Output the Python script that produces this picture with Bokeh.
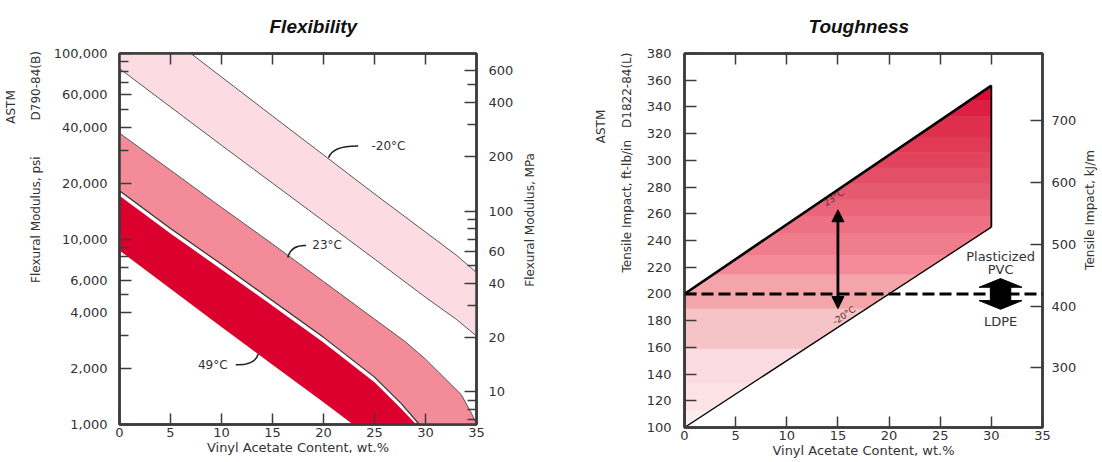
from math import pi
from bokeh.plotting import figure
from bokeh.models import (Range1d, LogScale, LinearAxis, LogAxis, FixedTicker,
                          NumeralTickFormatter, Label, Span, Arrow, NormalHead,
                          CustomLabelingPolicy)
from bokeh.layouts import row
from bokeh.embed import file_html
from bokeh.resources import INLINE

# ---------------- data: Flexibility (wt.% vinyl acetate vs flexural modulus, psi) ----------------
m20_upper_va = [0, 7, 15, 20, 25, 30, 33, 35]
m20_upper_psi = [195000, 100000, 46000, 28400, 17500, 10900, 8200, 6600]
m20_lower_va = [0, 5, 10, 15, 20, 25, 30, 33, 35]
m20_lower_psi = [83000, 51500, 32000, 20000, 12500, 7800, 4850, 3700, 3000]

t23_upper_va = [0, 5, 10, 15, 20, 25, 28, 30, 32, 33.5, 34.5, 35]
t23_upper_psi = [37200, 23500, 14800, 9400, 5900, 3700, 2800, 2250, 1750, 1450, 1150, 1000]
t23_lower_va = [0, 5, 10, 15, 20, 25, 27.6, 29.4]
t23_lower_psi = [18200, 11400, 7300, 4650, 2950, 1800, 1300, 1000]

t49_upper_va = [0, 5, 10, 15, 20, 25, 27.4, 29.1]
t49_upper_psi = [17100, 10700, 6850, 4370, 2770, 1690, 1250, 1000]
t49_lower_va = [0, 5, 10, 15, 20, 22.9]
t49_lower_psi = [8670, 5400, 3350, 2100, 1320, 1000]

flex_x_ticks = [0, 5, 10, 15, 20, 25, 30, 35]
psi_ticks = [1000, 2000, 4000, 6000, 10000, 20000, 40000, 60000, 100000]
psi_minor = [3000, 5000, 7000, 8000, 9000, 30000, 50000, 70000, 80000, 90000]
mpa_ticks = [10, 20, 40, 60, 100, 200, 400, 600]
mpa_minor = [7, 8, 9, 30, 50, 70, 80, 90, 300, 500]

# ---------------- data: Toughness (wt.% VA vs tensile impact, ft-lb/in) ----------------
tough_va = [0, 30]
tough_upper = [200, 356]
tough_lower = [100, 250]
stripe_edges = [100, 113, 133, 159, 189, 215, 229, 245, 258, 271, 283, 295, 306, 317, 333, 345, 357]
stripe_colors = ["#fdeeed", "#fde3e6", "#fcdce3", "#f6c4c6", "#f3a5a9", "#f48a98", "#f07d8c",
                 "#ee7083", "#ea6579", "#e65a6f", "#e44e66", "#e2445d", "#e03a55", "#de2f4d",
                 "#dc1f42", "#db0a36"]
pvc_ldpe_level = 200
arrow_va = 15
arrow_from, arrow_to = 189, 263
fat_arrow_va = 30.9
tough_y_ticks = list(range(100, 381, 20))
kj_ticks = [300, 400, 500, 600, 700]

FONT = "DejaVu Sans"
TFONT = "Liberation Sans"
AX = "#3c3c3c"
TXT = "#333333"
EM = "\u2003"


def style_axis(ax, major_in=11, minor_in=7, standoff=8, size="13px"):
    ax.axis_line_color = AX
    ax.axis_line_width = 2.5
    ax.major_tick_in = major_in
    ax.major_tick_out = 0
    ax.minor_tick_in = minor_in
    ax.minor_tick_out = 0
    ax.major_tick_line_color = AX
    ax.major_tick_line_width = 1.5
    ax.minor_tick_line_color = AX
    ax.minor_tick_line_width = 1.5
    ax.major_label_text_font = FONT
    ax.major_label_text_font_size = size
    ax.major_label_text_color = TXT
    ax.major_label_standoff = standoff
    ax.axis_label_text_font = FONT
    ax.axis_label_text_font_style = "normal"
    ax.axis_label_text_color = TXT
    ax.axis_label_text_font_size = "12px"


def top_ticks(p):
    ax = LinearAxis(ticker=FixedTicker(ticks=flex_x_ticks[1:-1]))
    style_axis(ax, standoff=0, size="1px")
    ax.major_label_policy = CustomLabelingPolicy(code="return new Set()")
    p.add_layout(ax, "above")


def side_title(p, text, at, standoff, log=False):
    """Vertical (bottom-to-top) title on the right-hand side, starting at value `at`."""
    cls = LogAxis if log else LinearAxis
    ax = cls(ticker=FixedTicker(ticks=[at], minor_ticks=[]))
    ax.axis_line_color = None
    ax.major_tick_line_color = None
    ax.minor_tick_line_color = None
    ax.major_label_overrides = {at: text}
    ax.major_label_orientation = pi / 2
    ax.major_label_standoff = standoff
    ax.major_label_text_font = FONT
    ax.major_label_text_font_size = "12px"
    ax.major_label_text_color = TXT
    p.add_layout(ax, "right")


def lab(p, text, x, y, angle=0.0, size="12px", align="center", color=TXT):
    p.add_layout(Label(x=x, y=y, text=text, angle=angle,
                       text_font=FONT, text_font_size=size,
                       text_color=color, text_align=align, text_baseline="middle"))


def style_title(p, text, offset):
    p.title.text = text
    p.title.align = "left"
    p.title.offset = offset
    p.title.text_font = TFONT
    p.title.text_font_size = "19px"
    p.title.text_font_style = "bold italic"
    p.title.text_color = "#111111"
    p.title.standoff = 26


# ======================= Flexibility =======================
p1 = figure(frame_width=357, frame_height=371, x_range=Range1d(0, 35),
            y_range=Range1d(1000, 100000), y_axis_type="log",
            output_backend="svg", toolbar_location=None,
            min_border_left=110, min_border_right=85, min_border_top=51, min_border_bottom=34)
p1.grid.visible = False
p1.outline_line_color = AX
p1.outline_line_width = 2.5
style_title(p1, "Flexibility", 150)

p1.xaxis.ticker = FixedTicker(ticks=flex_x_ticks)
p1.yaxis.ticker = FixedTicker(ticks=psi_ticks, minor_ticks=psi_minor)
p1.yaxis.formatter = NumeralTickFormatter(format="0,0")
for ax in p1.xaxis:
    style_axis(ax, standoff=3)
    ax.axis_label = "Vinyl Acetate Content, wt.%"
    ax.axis_label_standoff = 0
    ax.axis_label_text_font_size = "13px"
for ax in p1.yaxis:
    style_axis(ax, major_in=12, minor_in=9, standoff=12)
    ax.axis_label = (EM * 25 + "ASTM" + EM * 3 + "\n" +
                     EM * 12 + "Flexural Modulus, psi" + EM * 3 + "D790-84(B)")
    ax.axis_label_text_line_height = 1.8
    ax.axis_label_standoff = 8

top_ticks(p1)

p1.extra_y_ranges = {"mpa": Range1d(6.6, 745)}
p1.extra_y_scales = {"mpa": LogScale()}
ax_mpa = LogAxis(y_range_name="mpa", ticker=FixedTicker(ticks=mpa_ticks, minor_ticks=mpa_minor))
style_axis(ax_mpa, major_in=12, minor_in=9, standoff=12)
p1.add_layout(ax_mpa, "right")
side_title(p1, "Flexural Modulus, MPa", 5530, 8, log=True)

# bands
p1.patch(m20_upper_va + m20_lower_va[::-1], m20_upper_psi + m20_lower_psi[::-1],
         fill_color="#fddbe3", line_color=None)
p1.line(m20_upper_va, m20_upper_psi, line_color="#555555", line_width=1)
p1.line(m20_lower_va, m20_lower_psi, line_color="#555555", line_width=1)

p1.patch(t23_upper_va + t23_lower_va[::-1], t23_upper_psi + t23_lower_psi[::-1],
         fill_color="#f48b98", line_color=None)
p1.line(t23_upper_va, t23_upper_psi, line_color="#555555", line_width=1)
p1.line(t23_lower_va, t23_lower_psi, line_color="#333333", line_width=1.2)

p1.patch(t49_upper_va + t49_lower_va[::-1], t49_upper_psi + t49_lower_psi[::-1],
         fill_color="#dc002f", line_color=None)

# leaders + labels
p1.quadratic(x0=[20.5], y0=[27400], x1=[23.4], y1=[31700], cx=[20.9], cy=[31800],
             line_color="#222222", line_width=1.6)
p1.quadratic(x0=[16.5], y0=[7950], x1=[18.3], y1=[9230], cx=[16.8], cy=[9300],
             line_color="#222222", line_width=1.6)
p1.quadratic(x0=[11.4], y0=[2100], x1=[13.6], y1=[2400], cx=[13.3], cy=[2080],
             line_color="#222222", line_width=1.6)
lab(p1, "-20°C", 24.7, 31700, align="left")
lab(p1, "23°C", 18.9, 9230, align="left")
lab(p1, "49°C", 10.6, 2100, align="right")


# ======================= Toughness =======================
def clip_band(pts, lo, hi):
    def clip(poly, keep, yc):
        out = []
        n = len(poly)
        for i in range(n):
            a, b = poly[i], poly[(i + 1) % n]
            ka, kb = keep(a), keep(b)
            if ka:
                out.append(a)
            if ka != kb:
                t = (yc - a[1]) / (b[1] - a[1])
                out.append((a[0] + t * (b[0] - a[0]), yc))
        return out
    pts = clip(pts, lambda q: q[1] >= lo, lo)
    pts = clip(pts, lambda q: q[1] <= hi, hi)
    return pts


p2 = figure(frame_width=358, frame_height=374, x_range=Range1d(0, 35),
            y_range=Range1d(100, 380), output_backend="svg", toolbar_location=None,
            min_border_left=123, min_border_right=53, min_border_top=51, min_border_bottom=31)
p2.grid.visible = False
p2.outline_line_color = AX
p2.outline_line_width = 2.5
style_title(p2, "Toughness", 124)

p2.xaxis.ticker = FixedTicker(ticks=flex_x_ticks)
p2.yaxis.ticker = FixedTicker(ticks=tough_y_ticks)
for ax in p2.xaxis:
    style_axis(ax, standoff=3)
    ax.axis_label = "Vinyl Acetate Content, wt.%"
    ax.axis_label_standoff = 0
    ax.axis_label_text_font_size = "13px"
for ax in p2.yaxis:
    style_axis(ax, major_in=12, standoff=13)
    ax.axis_label = (EM * 24 + "ASTM" + EM * 5 + "\n" +
                     EM * 13 + "Tensile Impact, ft-lb/in" + EM * 1 + "D1822-84(L)")
    ax.axis_label_text_line_height = 1.8
    ax.axis_label_standoff = 10

top_ticks(p2)

p2.extra_y_ranges = {"kj": Range1d(203.6, 809)}
ax_kj = LinearAxis(y_range_name="kj", ticker=FixedTicker(ticks=kj_ticks))
style_axis(ax_kj, major_in=12, standoff=9)
p2.add_layout(ax_kj, "right")
side_title(p2, "Tensile Impact, kJ/m", 218, 5)

para = [(tough_va[0], tough_lower[0]), (tough_va[1], tough_lower[1]),
        (tough_va[1], tough_upper[1]), (tough_va[0], tough_upper[0])]
xs, ys = [], []
for lo, hi in zip(stripe_edges[:-1], stripe_edges[1:]):
    poly = clip_band(para, lo, hi)
    xs.append([q[0] for q in poly])
    ys.append([q[1] for q in poly])
p2.patches(xs, ys, fill_color=stripe_colors, line_color=stripe_colors, line_width=0.5)

p2.line(tough_va, tough_upper, line_color="black", line_width=2.6)
p2.line(tough_va, tough_lower, line_color="black", line_width=1.3)
p2.line([tough_va[1]] * 2, [tough_lower[1], tough_upper[1]], line_color="black", line_width=1.8)
p2.line([tough_va[0]] * 2, [tough_lower[0], tough_upper[0]], line_color="black", line_width=2.5)

p2.add_layout(Span(location=pvc_ldpe_level, dimension="width", line_color="black",
                   line_width=3, line_dash="12 5"))

p2.add_layout(Arrow(start=NormalHead(size=12, fill_color="black", line_color="black"),
                    end=NormalHead(size=12, fill_color="black", line_color="black"),
                    x_start=arrow_va, y_start=arrow_from, x_end=arrow_va, y_end=arrow_to,
                    line_width=2.8, line_color="black"))

# fat double arrow between PVC / LDPE
cx, cy = fat_arrow_va, pvc_ldpe_level
hw, sw, tip, base = 2.1, 1.0, 11.5, 5.0
fx = [cx, cx + hw, cx + sw, cx + sw, cx + hw, cx, cx - hw, cx - sw, cx - sw, cx - hw]
fy = [cy + tip, cy + base, cy + base, cy - base, cy - base, cy - tip, cy - base, cy - base,
      cy + base, cy + base]
p2.patch(fx, fy, fill_color="black", line_color="black")

lab(p2, "Plasticized", fat_arrow_va, 228, size="13px")
lab(p2, "PVC", fat_arrow_va, 218, size="13px")
lab(p2, "LDPE", fat_arrow_va, 179.5, size="13px")
lab(p2, "23°C", 14.6, 272, angle=0.6, size="9px", color="#5a2a30")
lab(p2, "-20°C", 15.6, 184, angle=0.6, size="9px", color="#5a2a30")

layout = row(p1, p2)
open("out.html", "w").write(file_html(layout, INLINE))
